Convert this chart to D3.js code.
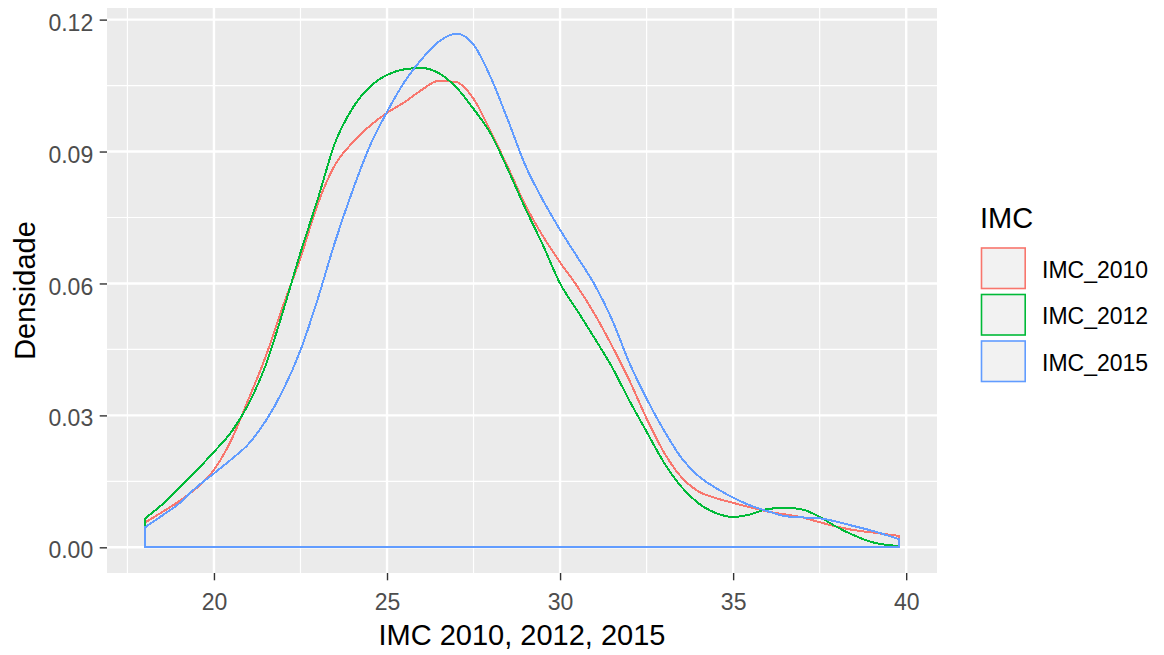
<!DOCTYPE html>
<meta charset="utf-8">
<script src="https://d3js.org/d3.v7.min.js"></script>
<style>
  body { margin: 0; background: #fff; }
  text { font-family: 'Liberation Sans', Arial, sans-serif; }
</style>
<body>
<div id="chart"></div>
<script>

// BMI values where the densities were read
var imc = [18, 18.5, 19, 19.5, 20, 20.5, 21, 21.5, 22, 22.5, 23, 23.5, 24, 24.5, 25, 25.5,
           26, 26.5, 27, 27.5, 28, 28.5, 29, 29.5, 30, 30.5, 31, 31.5, 32, 32.5, 33, 33.5,
           34, 34.5, 35, 35.5, 36, 36.5, 37, 37.5, 38, 38.5, 39, 39.5, 39.8];

var imc2010 = [0.0056, 0.0080, 0.0105, 0.0135, 0.0176, 0.0244, 0.0337, 0.0435, 0.0550, 0.0658,
               0.0781, 0.0870, 0.0920, 0.0958, 0.0988, 0.1012, 0.1040, 0.1061, 0.1058, 0.1020,
               0.0945, 0.0863, 0.0778, 0.0708, 0.0648, 0.0593, 0.0530, 0.0458, 0.0380, 0.0293,
               0.0216, 0.0160, 0.0127, 0.0112, 0.0101, 0.0091, 0.0081, 0.0075, 0.0068, 0.0057,
               0.0047, 0.0039, 0.0034, 0.0029, 0.0026];

var imc2012 = [0.0065, 0.0097, 0.0135, 0.0175, 0.0217, 0.0262, 0.0326, 0.0415, 0.0538, 0.0670,
               0.0792, 0.0920, 0.0998, 0.1047, 0.1074, 0.1087, 0.1090, 0.1078, 0.1046, 0.0997,
               0.0940, 0.0858, 0.0770, 0.0688, 0.0600, 0.0538, 0.0475, 0.0410, 0.0334, 0.0263,
               0.0193, 0.0138, 0.0100, 0.0078, 0.0069, 0.0075, 0.0087, 0.0090, 0.0086, 0.0069,
               0.0046, 0.0027, 0.0012, 0.0005, 0.0003];

var imc2015 = [0.0045, 0.0072, 0.0100, 0.0137, 0.0168, 0.0200, 0.0235, 0.0288, 0.0358, 0.0448,
               0.0565, 0.0695, 0.0810, 0.0912, 0.0990, 0.1058, 0.1110, 0.1150, 0.1168, 0.1143,
               0.1068, 0.0970, 0.0868, 0.0790, 0.0722, 0.0660, 0.0597, 0.0518, 0.0420, 0.0338,
               0.0266, 0.0204, 0.0162, 0.0135, 0.0113, 0.0095, 0.0082, 0.0071, 0.0068, 0.0066,
               0.0058, 0.0048, 0.0038, 0.0026, 0.0018];

var seriesNames = ["IMC_2010", "IMC_2012", "IMC_2015"];
var seriesValues = [imc2010, imc2012, imc2015];
var colors = ["#F8766D", "#00BA38", "#619CFF"];

var xTicks = [20, 25, 30, 35, 40];
var yTicks = [0, 0.03, 0.06, 0.09, 0.12];

var W = 1164, H = 655;
var panel = {left: 107, right: 937, top: 8, bottom: 573};

var svg = d3.select("#chart").append("svg")
  .attr("width", W)
  .attr("height", H);

// scales with ggplot's 5% expansion
var xr = d3.extent(imc), xpad = (xr[1] - xr[0]) * 0.05;
var x = d3.scaleLinear()
  .domain([xr[0] - xpad, xr[1] + xpad])
  .range([panel.left, panel.right]);

var ymax = d3.max(seriesValues, function(s) { return d3.max(s); });
var y = d3.scaleLinear()
  .domain([-ymax * 0.05, ymax * 1.05])
  .range([panel.bottom, panel.top]);

// panel background
svg.append("rect")
  .attr("x", panel.left).attr("y", panel.top)
  .attr("width", panel.right - panel.left)
  .attr("height", panel.bottom - panel.top)
  .attr("fill", "#EBEBEB");

// minor grid
var xMinor = [17.5, 22.5, 27.5, 32.5, 37.5];
var yMinor = [0.015, 0.045, 0.075, 0.105];
var grid = svg.append("g");
grid.selectAll(".xminor").data(xMinor).enter().append("line")
  .attr("x1", x).attr("x2", x)
  .attr("y1", panel.top).attr("y2", panel.bottom)
  .attr("stroke", "#fff").attr("stroke-width", 1.2);
grid.selectAll(".yminor").data(yMinor).enter().append("line")
  .attr("y1", y).attr("y2", y)
  .attr("x1", panel.left).attr("x2", panel.right)
  .attr("stroke", "#fff").attr("stroke-width", 1.2);

// major grid
grid.selectAll(".xmajor").data(xTicks).enter().append("line")
  .attr("x1", x).attr("x2", x)
  .attr("y1", panel.top).attr("y2", panel.bottom)
  .attr("stroke", "#fff").attr("stroke-width", 2.4);
grid.selectAll(".ymajor").data(yTicks).enter().append("line")
  .attr("y1", y).attr("y2", y)
  .attr("x1", panel.left).attr("x2", panel.right)
  .attr("stroke", "#fff").attr("stroke-width", 2.4);

// density outlines (closed down to zero like geom_density)
var area = d3.area()
  .x(function(d) { return x(d[0]); })
  .y0(Math.round(y(0)))
  .y1(function(d) { return y(d[1]); })
  .curve(d3.curveMonotoneX);

seriesValues.forEach(function(vals, i) {
  var pts = imc.map(function(v, j) { return [v, vals[j]]; });
  svg.append("path")
    .datum(pts)
    .attr("d", area)
    .attr("fill", "none")
    .attr("stroke", colors[i])
    .attr("stroke-width", 2)
    .attr("shape-rendering", "crispEdges");
});

// axes
var yAxis = svg.append("g")
  .attr("transform", "translate(" + panel.left + ",0)")
  .call(d3.axisLeft(y).tickValues(yTicks).tickFormat(d3.format(".2f"))
    .tickSize(7.3).tickPadding(6.5));
var xAxis = svg.append("g")
  .attr("transform", "translate(0," + panel.bottom + ")")
  .call(d3.axisBottom(x).tickValues(xTicks).tickFormat(d3.format("d"))
    .tickSize(7.3).tickPadding(13.4));

[xAxis, yAxis].forEach(function(a) {
  a.select(".domain").remove();
  a.selectAll("line").attr("stroke", "#333333").attr("stroke-width", 1.4);
  a.selectAll("text").attr("fill", "#4D4D4D").style("font-size", "23px");
});
yAxis.selectAll("text").attr("dy", "0.46em");

// axis titles
svg.append("text")
  .attr("x", (panel.left + panel.right) / 2)
  .attr("y", 645)
  .attr("text-anchor", "middle")
  .style("font-size", "29px")
  .attr("fill", "#000")
  .text("IMC 2010, 2012, 2015");

svg.append("text")
  .attr("transform", "translate(35," + (panel.top + panel.bottom) / 2 + ") rotate(-90)")
  .attr("text-anchor", "middle")
  .style("font-size", "29px")
  .attr("fill", "#000")
  .text("Densidade");

// legend
var legend = svg.append("g");
legend.append("text")
  .attr("x", 980).attr("y", 228)
  .style("font-size", "29px")
  .text("IMC");

seriesNames.forEach(function(name, i) {
  var ky = 248 + i * 46.5;
  legend.append("rect")
    .attr("x", 981.5).attr("y", ky)
    .attr("width", 43.7).attr("height", 40.5)
    .attr("fill", "#F2F2F2")
    .attr("stroke", colors[i])
    .attr("stroke-width", 1.6);
  legend.append("text")
    .attr("x", 1042).attr("y", ky + 20.25 + 9.5)
    .style("font-size", "23px")
    .attr("fill", "#000")
    .text(name);
});

</script>
</body>
